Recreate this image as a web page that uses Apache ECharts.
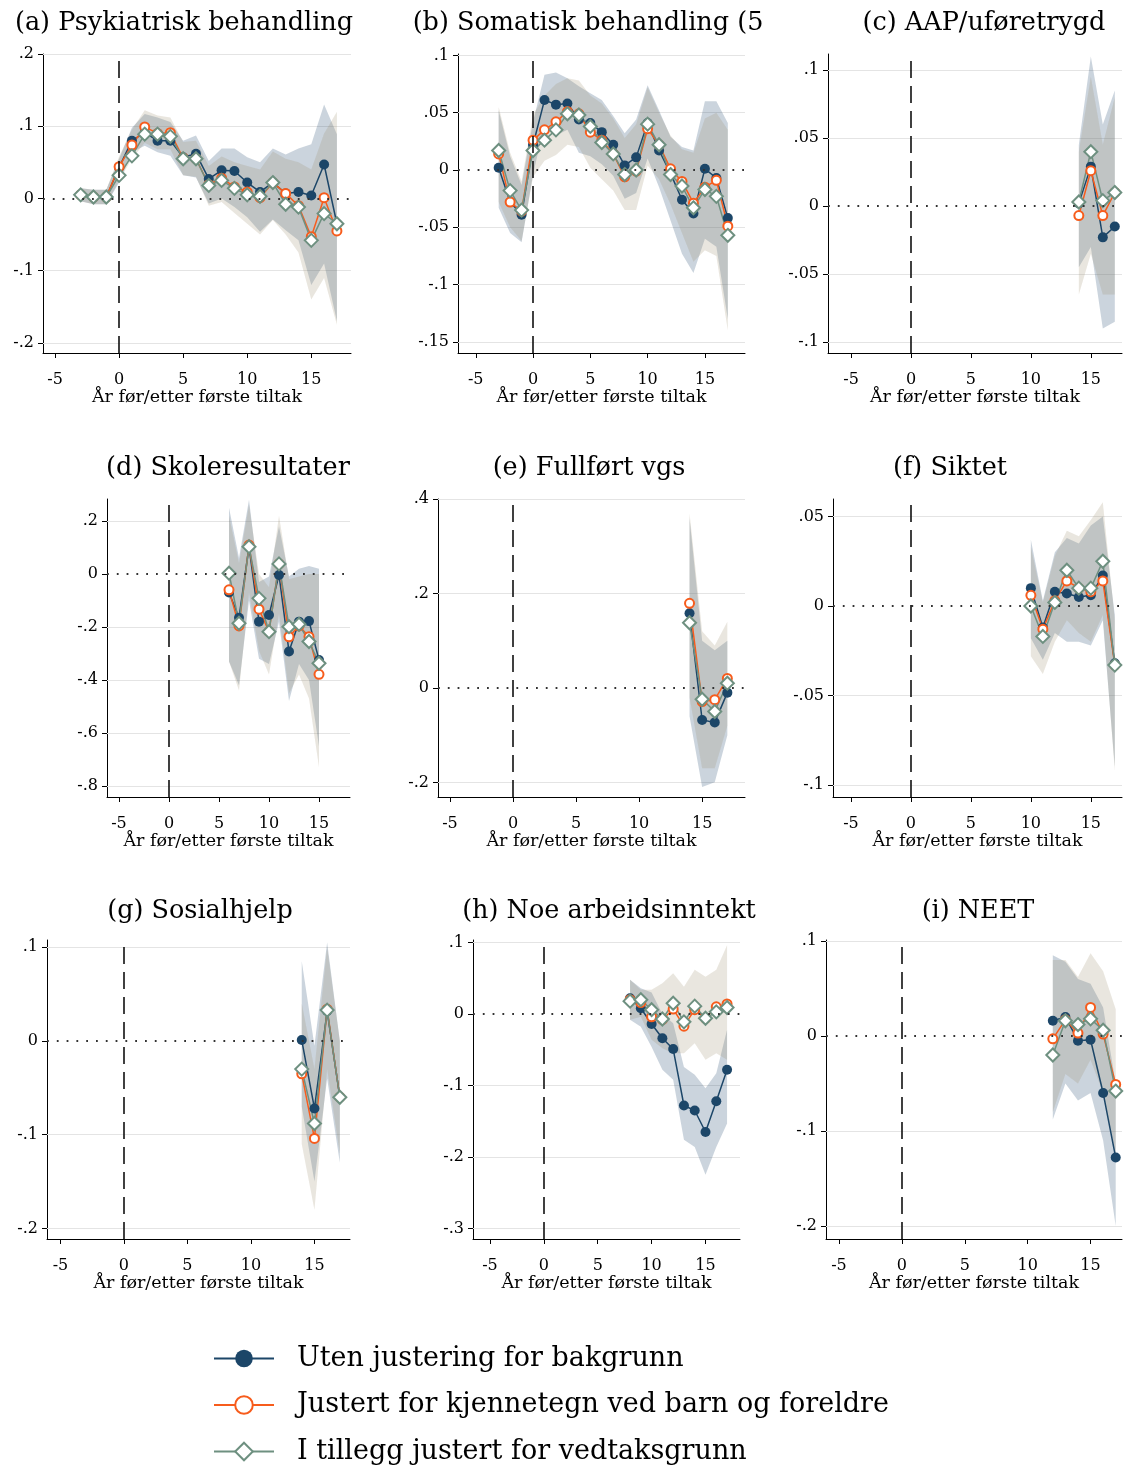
<!DOCTYPE html>
<html>
<head>
<meta charset="utf-8">
<script src="https://cdn.jsdelivr.net/npm/echarts@6/dist/echarts.min.js"></script>
<style>
  html, body { margin: 0; background: #fff; }
  #chart { width: 1125px; height: 1468px; }
</style>
</head>
<body>
<div id="chart"></div>
<script>
// (a) Psykiatrisk behandling
const psykYears = [-3,-2,-1,0,1,2,3,4,5,6,7,8,9,10,11,12,13,14,15,16,17];
const psykUten = [0.005,0.002,0.002,0.043,0.080,0.091,0.080,0.080,0.057,0.062,0.027,0.039,0.038,0.022,0.009,0.022,0.007,0.009,0.004,0.047,-0.035];
const psykJust = [0.005,0.002,0.002,0.044,0.074,0.099,0.090,0.091,0.056,0.055,0.019,0.028,0.016,0.009,0.001,0.022,0.007,-0.010,-0.053,0.001,-0.045];
const psykVedtak = [0.005,0.002,0.002,0.032,0.059,0.089,0.089,0.086,0.055,0.055,0.018,0.025,0.014,0.005,0.003,0.022,-0.008,-0.012,-0.058,-0.021,-0.035];
const psykUtenHi = [0.014,0.012,0.012,0.055,0.098,0.117,0.112,0.106,0.080,0.087,0.052,0.069,0.069,0.057,0.050,0.069,0.061,0.069,0.075,0.130,0.089];
const psykUtenLo = [-0.004,-0.008,-0.008,0.022,0.064,0.073,0.064,0.059,0.032,0.029,-0.007,0.000,-0.012,-0.026,-0.046,-0.029,-0.044,-0.058,-0.120,-0.090,-0.170];
const psykJustHi = [0.014,0.012,0.012,0.058,0.095,0.122,0.115,0.112,0.078,0.080,0.045,0.058,0.050,0.045,0.040,0.065,0.055,0.050,0.040,0.090,0.120];
const psykJustLo = [-0.004,-0.008,-0.008,0.025,0.055,0.077,0.068,0.068,0.032,0.030,-0.010,-0.005,-0.020,-0.035,-0.050,-0.030,-0.050,-0.075,-0.140,-0.110,-0.175];

// (b) Somatisk behandling
const somaYears = [-3,-2,-1,0,1,2,3,4,5,6,7,8,9,10,11,12,13,14,15,16,17];
const somaUten = [0.002,-0.028,-0.039,0.022,0.061,0.057,0.058,0.044,0.041,0.033,0.022,0.004,0.011,0.041,0.017,-0.003,-0.026,-0.038,0.001,-0.007,-0.042];
const somaJust = [0.014,-0.028,-0.036,0.026,0.035,0.042,0.051,0.049,0.033,0.026,0.014,-0.006,-0.001,0.036,0.022,0.001,-0.010,-0.029,-0.015,-0.009,-0.049];
const somaVedtak = [0.017,-0.018,-0.035,0.017,0.026,0.035,0.049,0.048,0.038,0.024,0.014,-0.004,0.000,0.040,0.022,-0.004,-0.014,-0.033,-0.017,-0.023,-0.057];
const somaUtenHi = [0.052,0.012,-0.013,0.042,0.083,0.085,0.080,0.073,0.067,0.061,0.047,0.032,0.044,0.074,0.052,0.029,0.020,0.017,0.060,0.060,0.041];
const somaUtenLo = [-0.033,-0.055,-0.063,-0.004,0.040,0.030,0.035,0.015,0.012,0.005,-0.005,-0.025,-0.020,0.010,-0.015,-0.044,-0.073,-0.090,-0.060,-0.067,-0.130];
const somaJustHi = [0.055,0.015,-0.010,0.048,0.065,0.075,0.080,0.078,0.065,0.058,0.045,0.028,0.040,0.072,0.050,0.030,0.018,0.015,0.045,0.050,0.035];
const somaJustLo = [-0.028,-0.050,-0.062,-0.006,0.008,0.013,0.022,0.020,0.002,-0.008,-0.018,-0.035,-0.035,0.004,-0.008,-0.030,-0.055,-0.080,-0.070,-0.075,-0.140];

// (c) AAP/uføretrygd
const aapYears = [14,15,16,17];
const aapUten = [0.002,0.029,-0.023,-0.015];
const aapJust = [-0.007,0.026,-0.007,0.010];
const aapVedtak = [0.003,0.040,0.004,0.010];
const aapUtenHi = [0.045,0.110,0.060,0.085];
const aapUtenLo = [-0.045,-0.030,-0.090,-0.085];
const aapJustHi = [0.040,0.095,0.045,0.080];
const aapJustLo = [-0.065,-0.035,-0.065,-0.065];

// (d) Skoleresultater
const skoleYears = [6,7,8,9,10,11,12,13,14,15];
const skoleUten = [-0.070,-0.165,0.103,-0.180,-0.155,-0.004,-0.293,-0.180,-0.178,-0.325];
const skoleJust = [-0.060,-0.196,0.109,-0.133,-0.218,0.038,-0.237,-0.196,-0.237,-0.379];
const skoleVedtak = [0.003,-0.186,0.103,-0.092,-0.218,0.038,-0.199,-0.190,-0.255,-0.337];
const skoleUtenHi = [0.25,0.06,0.28,-0.03,-0.01,0.18,-0.01,0.02,0.03,0.02];
const skoleUtenLo = [-0.33,-0.42,-0.10,-0.32,-0.34,-0.18,-0.48,-0.34,-0.40,-0.65];
const skoleJustHi = [0.22,0.04,0.26,0.00,-0.05,0.22,-0.02,-0.01,0.00,0.00];
const skoleJustLo = [-0.33,-0.44,-0.07,-0.29,-0.38,-0.15,-0.45,-0.38,-0.47,-0.73];

// (e) Fullført vgs
const vgsYears = [14,15,16,17];
const vgsUten = [0.158,-0.068,-0.073,-0.010];
const vgsJust = [0.179,-0.029,-0.025,0.020];
const vgsVedtak = [0.138,-0.024,-0.050,0.010];
const vgsUtenHi = [0.36,0.10,0.08,0.10];
const vgsUtenLo = [-0.06,-0.21,-0.20,-0.10];
const vgsJustHi = [0.37,0.12,0.09,0.14];
const vgsJustLo = [-0.02,-0.17,-0.17,-0.08];

// (f) Siktet
const siktYears = [10,11,12,13,14,15,16,17];
const siktUten = [0.010,-0.012,0.008,0.007,0.005,0.006,0.017,-0.032];
const siktJust = [0.006,-0.013,0.003,0.014,0.010,0.008,0.014,-0.033];
const siktVedtak = [0.000,-0.017,0.002,0.020,0.010,0.010,0.025,-0.033];
const siktUtenHi = [0.037,0.003,0.030,0.038,0.035,0.045,0.050,-0.005];
const siktUtenLo = [-0.018,-0.030,-0.015,-0.020,-0.020,-0.022,-0.008,-0.090];
const siktJustHi = [0.033,0.002,0.028,0.042,0.039,0.048,0.058,-0.008];
const siktJustLo = [-0.028,-0.038,-0.020,-0.008,-0.015,-0.020,-0.005,-0.092];

// (g) Sosialhjelp
const sosialYears = [14,15,16,17];
const sosialUten = [0.001,-0.072,0.032,-0.060];
const sosialJust = [-0.035,-0.104,0.034,-0.060];
const sosialVedtak = [-0.030,-0.088,0.033,-0.060];
const sosialUtenHi = [0.085,-0.005,0.105,0.000];
const sosialUtenLo = [-0.070,-0.150,-0.040,-0.130];
const sosialJustHi = [0.040,-0.030,0.100,0.000];
const sosialJustLo = [-0.110,-0.180,-0.030,-0.120];

// (h) Noe arbeidsinntekt
const arbeidYears = [8,9,10,11,12,13,14,15,16,17];
const arbeidUten = [0.022,0.008,-0.014,-0.034,-0.049,-0.128,-0.135,-0.165,-0.122,-0.078];
const arbeidJust = [0.020,0.016,-0.004,-0.008,0.007,-0.017,0.006,-0.006,0.010,0.014];
const arbeidVedtak = [0.018,0.020,0.006,-0.007,0.015,-0.011,0.011,-0.006,0.003,0.009];
const arbeidUtenHi = [0.048,0.036,0.030,0.000,-0.013,-0.074,-0.085,-0.104,-0.083,-0.022];
const arbeidUtenLo = [-0.008,-0.018,-0.046,-0.078,-0.092,-0.176,-0.186,-0.225,-0.186,-0.153];
const arbeidJustHi = [0.048,0.034,0.034,0.043,0.057,0.038,0.062,0.052,0.062,0.096];
const arbeidJustLo = [-0.008,-0.004,-0.036,-0.048,-0.055,-0.055,-0.041,-0.064,-0.055,-0.064];

// (i) NEET
const neetYears = [12,13,14,15,16,17];
const neetUten = [0.016,0.020,-0.005,-0.004,-0.060,-0.128];
const neetJust = [-0.003,0.017,0.003,0.030,0.002,-0.051];
const neetVedtak = [-0.020,0.016,0.012,0.018,0.006,-0.058];
const neetUtenHi = [0.085,0.078,0.060,0.055,0.030,-0.050];
const neetUtenLo = [-0.088,-0.050,-0.068,-0.060,-0.110,-0.200];
const neetJustHi = [0.080,0.080,0.062,0.087,0.068,0.028];
const neetJustLo = [-0.080,-0.040,-0.050,-0.025,-0.060,-0.125];

// tick values
const xTicks = [-5, 0, 5, 10, 15];
const psykTicks = [0.2, 0.1, 0, -0.1, -0.2];
const somaTicks = [0.1, 0.05, 0, -0.05, -0.1, -0.15];
const aapTicks = [0.1, 0.05, 0, -0.05, -0.1];
const skoleTicks = [0.2, 0, -0.2, -0.4, -0.6, -0.8];
const vgsTicks = [0.4, 0.2, 0, -0.2];
const siktTicks = [0.05, 0, -0.05, -0.1];
const sosialTicks = [0.1, 0, -0.1, -0.2];
const arbeidTicks = [0.1, 0, -0.1, -0.2, -0.3];
const neetTicks = [0.1, 0, -0.1, -0.2];

const seriesNames = ['Uten justering for bakgrunn', 'Justert for kjennetegn ved barn og foreldre', 'I tillegg justert for vedtaksgrunn'];
const xName = 'År før/etter første tiltak';

const FONT = '"DejaVu Serif", "Liberation Serif", serif';
const BLUE = '#1c4668';
const ORANGE = '#f75c1c';
const GREEN = '#6e9080';

const panels = [
  { title: '(a) Psykiatrisk behandling', tx: 184, ty: 23, x: psykYears, u: psykUten, j: psykJust, v: psykVedtak, uHi: psykUtenHi, uLo: psykUtenLo, jHi: psykJustHi, jLo: psykJustLo, ticks: psykTicks,
    l: 43, r: 351, t: 54, b: 353, xr: [-5.94, 18.1], yr: [-0.214, 0.2] },
  { title: '(b) Somatisk behandling (5', tx: 588, ty: 23, x: somaYears, u: somaUten, j: somaJust, v: somaVedtak, uHi: somaUtenHi, uLo: somaUtenLo, jHi: somaJustHi, jLo: somaJustLo, ticks: somaTicks,
    l: 458, r: 745, t: 54, b: 353, xr: [-6.55, 18.5], yr: [-0.1597, 0.1012] },
  { title: '(c) AAP/uføretrygd', tx: 984, ty: 23, x: aapYears, u: aapUten, j: aapJust, v: aapVedtak, uHi: aapUtenHi, uLo: aapUtenLo, jHi: aapJustHi, jLo: aapJustLo, ticks: aapTicks,
    l: 828, r: 1122, t: 54, b: 353, xr: [-6.92, 17.6], yr: [-0.108, 0.1118] },
  { title: '(d) Skoleresultater', tx: 228, ty: 468, x: skoleYears, u: skoleUten, j: skoleJust, v: skoleVedtak, uHi: skoleUtenHi, uLo: skoleUtenLo, jHi: skoleJustHi, jLo: skoleJustLo, ticks: skoleTicks,
    l: 107, r: 350, t: 499, b: 797, xr: [-6.2, 18.1], yr: [-0.842, 0.283] },
  { title: '(e) Fullført vgs', tx: 589, ty: 468, x: vgsYears, u: vgsUten, j: vgsJust, v: vgsVedtak, uHi: vgsUtenHi, uLo: vgsUtenLo, jHi: vgsJustHi, jLo: vgsJustLo, ticks: vgsTicks,
    l: 438, r: 745, t: 499, b: 797, xr: [-5.95, 18.4], yr: [-0.231, 0.4] },
  { title: '(f) Siktet', tx: 950, ty: 468, x: siktYears, u: siktUten, j: siktJust, v: siktVedtak, uHi: siktUtenHi, uLo: siktUtenLo, jHi: siktJustHi, jLo: siktJustLo, ticks: siktTicks,
    l: 833, r: 1122, t: 499, b: 797, xr: [-6.5, 17.6], yr: [-0.1067, 0.0598] },
  { title: '(g) Sosialhjelp', tx: 200, ty: 911, x: sosialYears, u: sosialUten, j: sosialJust, v: sosialVedtak, uHi: sosialUtenHi, uLo: sosialUtenLo, jHi: sosialJustHi, jLo: sosialJustLo, ticks: sosialTicks,
    l: 47, r: 350, t: 940, b: 1239, xr: [-6.06, 17.8], yr: [-0.2113, 0.1078] },
  { title: '(h) Noe arbeidsinntekt', tx: 609, ty: 911, x: arbeidYears, u: arbeidUten, j: arbeidJust, v: arbeidVedtak, uHi: arbeidUtenHi, uLo: arbeidUtenLo, jHi: arbeidJustHi, jLo: arbeidJustLo, ticks: arbeidTicks,
    l: 473, r: 740, t: 940, b: 1239, xr: [-6.57, 18.2], yr: [-0.3147, 0.1035] },
  { title: '(i) NEET', tx: 978, ty: 911, x: neetYears, u: neetUten, j: neetJust, v: neetVedtak, uHi: neetUtenHi, uLo: neetUtenLo, jHi: neetJustHi, jLo: neetJustLo, ticks: neetTicks,
    l: 826, r: 1122, t: 940, b: 1239, xr: [-6.03, 17.5], yr: [-0.2137, 0.101] }
];

// Stata style labels: .1, -.05, 0
const fmt = v => (v === 0 ? '0' : String(v).replace('0.', '.'));

// confidence band: one polygon per band, drawn once from all rows [x, lo, hi]
const bandItem = color => (params, api) => {
  if (params.dataIndex !== 0) return;
  const n = params.dataInsideLength;
  const upper = [], lower = [];
  for (let k = 0; k < n; k++) {
    upper.push(api.coord([api.value(0, k), api.value(2, k)]));
    lower.push(api.coord([api.value(0, k), api.value(1, k)]));
  }
  const pts = echarts.graphic.clipPointsByRect(upper.concat(lower.reverse()), params.coordSys);
  return { type: 'polygon', shape: { points: pts }, style: { fill: color }, silent: true };
};

const grids = [], xAxes = [], yAxes = [], series = [];

panels.forEach((p, i) => {
  grids.push({ left: p.l, top: p.t, width: p.r - p.l, height: p.b - p.t, containLabel: false, outerBoundsMode: 'none' });

  xAxes.push({
    type: 'value', gridIndex: i, min: p.xr[0], max: p.xr[1],
    axisLine: { show: true, onZero: false, lineStyle: { color: '#000', width: 1 } },
    axisTick: { show: true, customValues: xTicks, length: 5, lineStyle: { color: '#000' } },
    axisLabel: { customValues: xTicks, margin: 19, fontSize: 16, color: '#000', fontFamily: FONT },
    splitLine: { show: false },
    name: xName, nameLocation: 'middle', nameGap: 35,
    nameTextStyle: { fontSize: 17.5, color: '#000', fontFamily: FONT }
  });

  yAxes.push({
    type: 'value', gridIndex: i, min: p.yr[0], max: p.yr[1],
    axisLine: { show: true, onZero: false, lineStyle: { color: '#000', width: 1 } },
    axisTick: { show: true, customValues: p.ticks, length: 5, lineStyle: { color: '#000' } },
    axisLabel: { customValues: p.ticks, margin: 9, fontSize: 16, color: '#000', fontFamily: FONT, formatter: fmt },
    splitLine: { show: false }
  });

  const pair = ys => p.x.map((x, k) => [x, ys[k]]);
  const triple = (lo, hi) => p.x.map((x, k) => [x, lo[k], hi[k]]);

  const bands = [
    { lo: p.uLo, hi: p.uHi, color: 'rgba(30,70,110,0.23)' },
    { lo: p.jLo, hi: p.jHi, color: 'rgba(215,135,80,0.11)' },
    { lo: p.jLo, hi: p.jHi, color: 'rgba(110,145,130,0.12)' }
  ];

  bands.forEach((bd, k) => {
    const s = {
      type: 'custom', xAxisIndex: i, yAxisIndex: i, data: triple(bd.lo, bd.hi),
      encode: { x: 0, y: [1, 2] }, renderItem: bandItem(bd.color), silent: true, z: 2
    };
    if (k === 0) {
      // light grid lines behind everything
      s.markLine = {
        silent: true, symbol: ['none', 'none'], z: 1, label: { show: false },
        lineStyle: { color: '#e4e4e4', width: 1, type: 'solid' },
        data: p.ticks.filter(t => t !== 0).map(t => ({ yAxis: t }))
      };
    }
    series.push(s);
  });

  series.push({
    name: seriesNames[0], type: 'line', xAxisIndex: i, yAxisIndex: i, data: pair(p.u),
    symbol: 'circle', symbolSize: 10, lineStyle: { color: BLUE, width: 1.5 },
    itemStyle: { color: BLUE }, z: 3
  });
  series.push({
    name: seriesNames[1], type: 'line', xAxisIndex: i, yAxisIndex: i, data: pair(p.j),
    symbol: 'emptyCircle', symbolSize: 9, lineStyle: { color: ORANGE, width: 1.5 },
    itemStyle: { color: ORANGE, borderWidth: 1.8 }, z: 3
  });
  series.push({
    name: seriesNames[2], type: 'line', xAxisIndex: i, yAxisIndex: i, data: pair(p.v),
    symbol: 'emptyDiamond', symbolSize: 13, lineStyle: { color: GREEN, width: 1.5 },
    itemStyle: { color: GREEN, borderWidth: 2 }, z: 3,
    markLine: {
      silent: true, symbol: ['none', 'none'], label: { show: false },
      data: [
        { yAxis: 0, lineStyle: { color: '#333', width: 1.8, type: [1.8, 8] } },
        { xAxis: 0, lineStyle: { color: '#111', width: 1.6, type: [17, 8] } }
      ]
    }
  });
});

const chart = echarts.init(document.getElementById('chart'), null, { renderer: 'canvas' });
chart.setOption({
  backgroundColor: '#fff',
  animation: false,
  grid: grids,
  xAxis: xAxes,
  yAxis: yAxes,
  series: series,
  legend: {
    data: seriesNames, orient: 'vertical', left: 213, top: 1345,
    itemWidth: 60, itemHeight: 22, itemGap: 19.5, selectedMode: false, padding: 0,
    textStyle: { fontSize: 27, color: '#000', fontFamily: FONT, padding: [0, 0, 0, 18] }
  },
  graphic: panels.map(p => ({
    type: 'text', x: p.tx, y: p.ty,
    style: { text: p.title, fontSize: 25.5, fontFamily: FONT, fill: '#000', align: 'center', verticalAlign: 'middle' }
  }))
});
</script>
</body>
</html>
